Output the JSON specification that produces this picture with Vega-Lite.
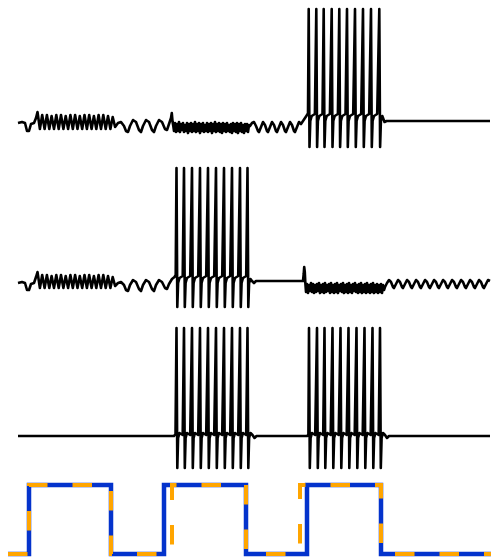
{
  "$schema": "https://vega.github.io/schema/vega-lite/v6.json",
  "width": 500,
  "height": 560,
  "padding": 0,
  "autosize": "none",
  "background": "white",
  "view": {"stroke": null},
  "datasets": {
    "t1": [
      {"x":18,"y":123},{"x":22,"y":122},{"x":25,"y":123},{"x":27,"y":131},{"x":29,"y":131},{"x":31,"y":124},{"x":34,"y":123},{"x":36,"y":118},{"x":37.5,"y":112},
      {"x":39.9,"y":129},{"x":42.2,"y":115},{"x":44.6,"y":129},{"x":46.9,"y":115},{"x":49.3,"y":129},{"x":51.6,"y":116},{"x":54,"y":129},{"x":56.3,"y":115},{"x":58.7,"y":129},{"x":61,"y":115},{"x":63.4,"y":129},{"x":65.7,"y":116},{"x":68.1,"y":129},{"x":70.4,"y":115},{"x":72.8,"y":129},{"x":75.1,"y":115},{"x":77.5,"y":129},{"x":79.8,"y":116},{"x":82.2,"y":129},{"x":84.5,"y":115},{"x":86.9,"y":129},{"x":89.2,"y":115},{"x":91.6,"y":129},{"x":93.9,"y":116},{"x":96.3,"y":129},{"x":98.6,"y":115},{"x":101,"y":129},{"x":103.3,"y":115},{"x":105.7,"y":129},{"x":108,"y":116},{"x":110.4,"y":129},{"x":112.7,"y":117},{"x":115.1,"y":127},
      {"x":118,"y":123},{"x":121,"y":122},{"x":124,"y":126},{"x":126,"y":131},{"x":128,"y":132},{"x":130,"y":126},{"x":133,"y":120},{"x":136,"y":122},{"x":139,"y":130},{"x":141,"y":132},{"x":143,"y":126},{"x":146,"y":120},{"x":149,"y":122},{"x":152,"y":130},{"x":154,"y":132},{"x":156,"y":126},{"x":159,"y":120},{"x":162,"y":122},{"x":165,"y":129},{"x":167,"y":130},{"x":169,"y":124},{"x":171,"y":118},{"x":171.8,"y":113},{"x":172.6,"y":122},{"x":173.3,"y":126},
      {"x":174,"y":131},{"x":175,"y":123},{"x":176,"y":132},{"x":177,"y":124},{"x":178,"y":131},{"x":179,"y":122},{"x":180,"y":132},{"x":181,"y":124},{"x":182,"y":130},{"x":183,"y":123},{"x":184,"y":132},{"x":185,"y":125},{"x":186,"y":131},{"x":187,"y":123},{"x":188,"y":133},{"x":189,"y":124},{"x":190,"y":131},{"x":191,"y":123},{"x":192,"y":132},{"x":193,"y":124},{"x":194,"y":131},{"x":195,"y":122},{"x":196,"y":132},{"x":197,"y":124},{"x":198,"y":131},{"x":199,"y":123},{"x":200,"y":133},{"x":201,"y":124},{"x":202,"y":131},{"x":203,"y":123},{"x":204,"y":132},{"x":205,"y":125},{"x":206,"y":131},{"x":207,"y":123},{"x":208,"y":132},{"x":209,"y":124},{"x":210,"y":131},{"x":211,"y":123},{"x":212,"y":133},{"x":213,"y":124},{"x":214,"y":131},{"x":215,"y":122},{"x":216,"y":132},{"x":217,"y":124},{"x":218,"y":131},{"x":219,"y":123},{"x":220,"y":132},{"x":221,"y":124},{"x":222,"y":133},{"x":223,"y":123},{"x":224,"y":131},{"x":225,"y":124},{"x":226,"y":132},{"x":227,"y":123},{"x":228,"y":131},{"x":229,"y":125},{"x":230,"y":132},{"x":231,"y":124},{"x":232,"y":133},{"x":233,"y":123},{"x":234,"y":131},{"x":235,"y":124},{"x":236,"y":132},{"x":237,"y":123},{"x":238,"y":133},{"x":239,"y":124},{"x":240,"y":131},{"x":241,"y":123},{"x":242,"y":132},{"x":243,"y":125},{"x":244,"y":133},{"x":245,"y":124},{"x":246,"y":131},{"x":247,"y":124},{"x":248,"y":132},{"x":249,"y":125},
      {"x":250,"y":126},{"x":252,"y":123},{"x":254,"y":122},{"x":256,"y":126},{"x":258,"y":131},{"x":259,"y":132},{"x":261,"y":127},{"x":263,"y":122},{"x":265,"y":125},{"x":267,"y":131},{"x":268,"y":132},{"x":270,"y":127},{"x":272,"y":122},{"x":274,"y":125},{"x":276,"y":131},{"x":277,"y":132},{"x":279,"y":127},{"x":281,"y":122},{"x":283,"y":125},{"x":285,"y":131},{"x":286,"y":132},{"x":288,"y":127},{"x":290,"y":122},{"x":292,"y":125},{"x":294,"y":131},{"x":295,"y":132},{"x":297,"y":127},{"x":299,"y":122},{"x":301,"y":124},{"x":303,"y":121},{"x":305,"y":118},{"x":307,"y":115},{"x":308,"y":113},
      {"x":308.7,"y":9},{"x":309.5,"y":147},{"x":310.3,"y":121},{"x":311.7,"y":116},{"x":314.9,"y":114},
      {"x":316.3,"y":9},{"x":317.1,"y":147},{"x":317.9,"y":121},{"x":319.3,"y":116},{"x":322.5,"y":114},
      {"x":323.7,"y":9},{"x":324.5,"y":147},{"x":325.3,"y":121},{"x":326.7,"y":116},{"x":329.9,"y":114},
      {"x":331.7,"y":9},{"x":332.5,"y":147},{"x":333.3,"y":121},{"x":334.7,"y":116},{"x":337.9,"y":114},
      {"x":339.3,"y":9},{"x":340.1,"y":147},{"x":340.9,"y":121},{"x":342.3,"y":116},{"x":345.5,"y":114},
      {"x":347,"y":9},{"x":347.8,"y":147},{"x":348.6,"y":121},{"x":350,"y":116},{"x":353.2,"y":114},
      {"x":355,"y":9},{"x":355.8,"y":147},{"x":356.6,"y":121},{"x":358,"y":116},{"x":361.2,"y":114},
      {"x":363,"y":9},{"x":363.8,"y":147},{"x":364.6,"y":121},{"x":366,"y":116},{"x":369.2,"y":114},
      {"x":371,"y":9},{"x":371.8,"y":147},{"x":372.6,"y":121},{"x":374,"y":116},{"x":377.2,"y":114},
      {"x":379.3,"y":9},{"x":380.1,"y":147},{"x":380.9,"y":121},{"x":382.3,"y":116},{"x":384.5,"y":122},{"x":386.5,"y":121},{"x":490,"y":121}
    ],
    "t2": [
      {"x":18,"y":283},{"x":22,"y":282},{"x":25,"y":283},{"x":27,"y":290},{"x":29,"y":290},{"x":31,"y":284},{"x":34,"y":283},{"x":36,"y":277},{"x":37.5,"y":272},
      {"x":39.9,"y":288},{"x":42.2,"y":275},{"x":44.6,"y":288},{"x":46.9,"y":275},{"x":49.3,"y":288},{"x":51.6,"y":276},{"x":54,"y":288},{"x":56.3,"y":275},{"x":58.7,"y":288},{"x":61,"y":275},{"x":63.4,"y":288},{"x":65.7,"y":276},{"x":68.1,"y":288},{"x":70.4,"y":275},{"x":72.8,"y":288},{"x":75.1,"y":275},{"x":77.5,"y":288},{"x":79.8,"y":276},{"x":82.2,"y":288},{"x":84.5,"y":275},{"x":86.9,"y":288},{"x":89.2,"y":275},{"x":91.6,"y":288},{"x":93.9,"y":276},{"x":96.3,"y":288},{"x":98.6,"y":275},{"x":101,"y":288},{"x":103.3,"y":275},{"x":105.7,"y":288},{"x":108,"y":276},{"x":110.4,"y":288},{"x":112.7,"y":277},{"x":115.1,"y":286},
      {"x":118,"y":283},{"x":121,"y":282},{"x":124,"y":285},{"x":126,"y":290},{"x":128,"y":291},{"x":130,"y":285},{"x":133,"y":280},{"x":136,"y":282},{"x":139,"y":289},{"x":141,"y":291},{"x":143,"y":285},{"x":146,"y":280},{"x":149,"y":282},{"x":152,"y":289},{"x":154,"y":291},{"x":156,"y":285},{"x":159,"y":280},{"x":162,"y":282},{"x":165,"y":288},{"x":167,"y":289},{"x":169,"y":284},{"x":172,"y":279},{"x":174.5,"y":277},{"x":175.7,"y":275},
      {"x":176.5,"y":168},{"x":177.3,"y":307},{"x":178.1,"y":283},{"x":179.5,"y":278},{"x":182.7,"y":276},
      {"x":184,"y":168},{"x":184.8,"y":307},{"x":185.6,"y":283},{"x":187,"y":278},{"x":190.2,"y":276},
      {"x":192,"y":168},{"x":192.8,"y":307},{"x":193.6,"y":283},{"x":195,"y":278},{"x":198.2,"y":276},
      {"x":200,"y":168},{"x":200.8,"y":307},{"x":201.6,"y":283},{"x":203,"y":278},{"x":206.2,"y":276},
      {"x":208,"y":168},{"x":208.8,"y":307},{"x":209.6,"y":283},{"x":211,"y":278},{"x":214.2,"y":276},
      {"x":216,"y":168},{"x":216.8,"y":307},{"x":217.6,"y":283},{"x":219,"y":278},{"x":222.2,"y":276},
      {"x":224,"y":168},{"x":224.8,"y":307},{"x":225.6,"y":283},{"x":227,"y":278},{"x":230.2,"y":276},
      {"x":232,"y":168},{"x":232.8,"y":307},{"x":233.6,"y":283},{"x":235,"y":278},{"x":238.2,"y":276},
      {"x":240,"y":168},{"x":240.8,"y":307},{"x":241.6,"y":283},{"x":243,"y":278},{"x":246.2,"y":276},
      {"x":247.5,"y":168},{"x":248.3,"y":307},{"x":249.1,"y":283},{"x":250.5,"y":279},{"x":252,"y":281},{"x":254,"y":283},{"x":256,"y":281},{"x":303,"y":281},{"x":303.7,"y":274},{"x":304.2,"y":267},{"x":304.8,"y":272},{"x":305.4,"y":284},
      {"x":306,"y":292},{"x":307,"y":284},{"x":308,"y":293},{"x":309,"y":285},{"x":310,"y":291},{"x":311,"y":283},{"x":312,"y":292},{"x":313,"y":284},{"x":314,"y":293},{"x":315,"y":285},{"x":316,"y":292},{"x":317,"y":284},{"x":318,"y":291},{"x":319,"y":283},{"x":320,"y":293},{"x":321,"y":285},{"x":322,"y":292},{"x":323,"y":284},{"x":324,"y":293},{"x":325,"y":283},{"x":326,"y":292},{"x":327,"y":285},{"x":328,"y":291},{"x":329,"y":284},{"x":330,"y":293},{"x":331,"y":283},{"x":332,"y":292},{"x":333,"y":285},{"x":334,"y":293},{"x":335,"y":284},{"x":336,"y":292},{"x":337,"y":283},{"x":338,"y":293},{"x":339,"y":285},{"x":340,"y":291},{"x":341,"y":284},{"x":342,"y":292},{"x":343,"y":283},{"x":344,"y":293},{"x":345,"y":285},{"x":346,"y":292},{"x":347,"y":284},{"x":348,"y":293},{"x":349,"y":283},{"x":350,"y":292},{"x":351,"y":285},{"x":352,"y":293},{"x":353,"y":284},{"x":354,"y":291},{"x":355,"y":283},{"x":356,"y":292},{"x":357,"y":285},{"x":358,"y":293},{"x":359,"y":284},{"x":360,"y":292},{"x":361,"y":283},{"x":362,"y":293},{"x":363,"y":285},{"x":364,"y":292},{"x":365,"y":284},{"x":366,"y":293},{"x":367,"y":283},{"x":368,"y":292},{"x":369,"y":285},{"x":370,"y":293},{"x":371,"y":284},{"x":372,"y":292},{"x":373,"y":283},{"x":374,"y":293},{"x":375,"y":285},{"x":376,"y":292},{"x":377,"y":284},{"x":378,"y":293},{"x":379,"y":285},{"x":380,"y":292},{"x":381,"y":284},{"x":382,"y":293},{"x":383,"y":285},{"x":384,"y":290},
      {"x":385,"y":287},{"x":387,"y":283},{"x":389,"y":280},{"x":391,"y":282},{"x":393,"y":287},{"x":394,"y":288},{"x":396,"y":284},{"x":398,"y":280},{"x":400,"y":282},{"x":402,"y":287},{"x":403,"y":288},{"x":405,"y":284},{"x":407,"y":280},{"x":409,"y":282},{"x":411,"y":287},{"x":412,"y":288},{"x":414,"y":284},{"x":416,"y":280},{"x":418,"y":282},{"x":420,"y":287},{"x":421,"y":288},{"x":423,"y":284},{"x":425,"y":280},{"x":427,"y":282},{"x":429,"y":287},{"x":430,"y":288},{"x":432,"y":284},{"x":434,"y":280},{"x":436,"y":282},{"x":438,"y":287},{"x":439,"y":288},{"x":441,"y":284},{"x":443,"y":280},{"x":445,"y":282},{"x":447,"y":287},{"x":448,"y":288},{"x":450,"y":284},{"x":452,"y":280},{"x":454,"y":282},{"x":456,"y":287},{"x":457,"y":288},{"x":459,"y":284},{"x":461,"y":280},{"x":463,"y":282},{"x":465,"y":287},{"x":466,"y":288},{"x":468,"y":284},{"x":470,"y":280},{"x":472,"y":282},{"x":474,"y":287},{"x":475,"y":288},{"x":477,"y":284},{"x":479,"y":280},{"x":481,"y":282},{"x":483,"y":287},{"x":484,"y":288},{"x":486,"y":284},{"x":488,"y":280},{"x":490,"y":281}
    ],
    "t3": [
      {"x":18,"y":436},{"x":174,"y":436},{"x":175.5,"y":434},
      {"x":176.5,"y":328},{"x":177.3,"y":468},{"x":178.1,"y":438},{"x":179.5,"y":433},{"x":182.7,"y":435},
      {"x":184,"y":328},{"x":184.8,"y":468},{"x":185.6,"y":438},{"x":187,"y":433},{"x":190.2,"y":435},
      {"x":192,"y":328},{"x":192.8,"y":468},{"x":193.6,"y":438},{"x":195,"y":433},{"x":198.2,"y":435},
      {"x":200,"y":328},{"x":200.8,"y":468},{"x":201.6,"y":438},{"x":203,"y":433},{"x":206.2,"y":435},
      {"x":208,"y":328},{"x":208.8,"y":468},{"x":209.6,"y":438},{"x":211,"y":433},{"x":214.2,"y":435},
      {"x":216,"y":328},{"x":216.8,"y":468},{"x":217.6,"y":438},{"x":219,"y":433},{"x":222.2,"y":435},
      {"x":224,"y":328},{"x":224.8,"y":468},{"x":225.6,"y":438},{"x":227,"y":433},{"x":230.2,"y":435},
      {"x":232,"y":328},{"x":232.8,"y":468},{"x":233.6,"y":438},{"x":235,"y":433},{"x":238.2,"y":435},
      {"x":240,"y":328},{"x":240.8,"y":468},{"x":241.6,"y":438},{"x":243,"y":433},{"x":246.2,"y":435},
      {"x":247.5,"y":328},{"x":248.3,"y":468},{"x":249.1,"y":438},{"x":250.5,"y":433},{"x":252.5,"y":435},{"x":254.5,"y":438},{"x":256.5,"y":436},{"x":307.5,"y":436},{"x":308.4,"y":434},
      {"x":309,"y":328},{"x":309.8,"y":468},{"x":310.6,"y":438},{"x":312,"y":433},{"x":315.2,"y":435},
      {"x":317,"y":328},{"x":317.8,"y":468},{"x":318.6,"y":438},{"x":320,"y":433},{"x":323.2,"y":435},
      {"x":324.5,"y":328},{"x":325.3,"y":468},{"x":326.1,"y":438},{"x":327.5,"y":433},{"x":330.7,"y":435},
      {"x":332.5,"y":328},{"x":333.3,"y":468},{"x":334.1,"y":438},{"x":335.5,"y":433},{"x":338.7,"y":435},
      {"x":340.5,"y":328},{"x":341.3,"y":468},{"x":342.1,"y":438},{"x":343.5,"y":433},{"x":346.7,"y":435},
      {"x":348.5,"y":328},{"x":349.3,"y":468},{"x":350.1,"y":438},{"x":351.5,"y":433},{"x":354.7,"y":435},
      {"x":356.5,"y":328},{"x":357.3,"y":468},{"x":358.1,"y":438},{"x":359.5,"y":433},{"x":362.7,"y":435},
      {"x":364.5,"y":328},{"x":365.3,"y":468},{"x":366.1,"y":438},{"x":367.5,"y":433},{"x":370.7,"y":435},
      {"x":372.5,"y":328},{"x":373.3,"y":468},{"x":374.1,"y":438},{"x":375.5,"y":433},{"x":378.7,"y":435},
      {"x":380,"y":328},{"x":380.8,"y":468},{"x":381.6,"y":438},{"x":383,"y":433},{"x":385,"y":435},{"x":387,"y":438},{"x":389,"y":436},{"x":490,"y":436}
    ],
    "blue": [
      {"x":8,"y":554},{"x":29,"y":554},{"x":29,"y":485},{"x":111,"y":485},{"x":111,"y":554},{"x":164,"y":554},{"x":164,"y":485},{"x":246,"y":485},{"x":246,"y":554},{"x":307,"y":554},{"x":307,"y":485},{"x":381,"y":485},{"x":381,"y":554},{"x":491,"y":554}
    ],
    "orange": [
      {"x":8,"y":554},{"x":29,"y":554},{"x":29,"y":485},{"x":111,"y":485},{"x":111,"y":554},{"x":172,"y":554},{"x":172,"y":485},{"x":246,"y":485},{"x":246,"y":554},{"x":300,"y":554},{"x":300,"y":485},{"x":381,"y":485},{"x":381,"y":554},{"x":491,"y":554}
    ]
  },
  "encoding": {
    "x": {"field": "x", "type": "quantitative", "axis": null, "scale": {"domain": [0, 500], "nice": false, "zero": false}},
    "y": {"field": "y", "type": "quantitative", "axis": null, "scale": {"domain": [0, 560], "nice": false, "zero": false, "reverse": true}},
    "order": {"value": null}
  },
  "layer": [
    {"data": {"name": "t1"}, "mark": {"type": "line", "color": "black", "strokeWidth": 2.6, "strokeJoin": "round", "clip": false}},
    {"data": {"name": "t2"}, "mark": {"type": "line", "color": "black", "strokeWidth": 2.6, "strokeJoin": "round", "clip": false}},
    {"data": {"name": "t3"}, "mark": {"type": "line", "color": "black", "strokeWidth": 2.6, "strokeJoin": "round", "clip": false}},
    {"data": {"name": "blue"}, "mark": {"type": "line", "color": "#0433cc", "strokeWidth": 4.5, "strokeJoin": "miter", "strokeCap": "butt", "clip": false}},
    {"data": {"name": "orange"}, "mark": {"type": "line", "color": "#ffa500", "strokeWidth": 4, "strokeJoin": "miter", "strokeCap": "butt", "strokeDash": [19.5, 25], "clip": false}}
  ]
}
